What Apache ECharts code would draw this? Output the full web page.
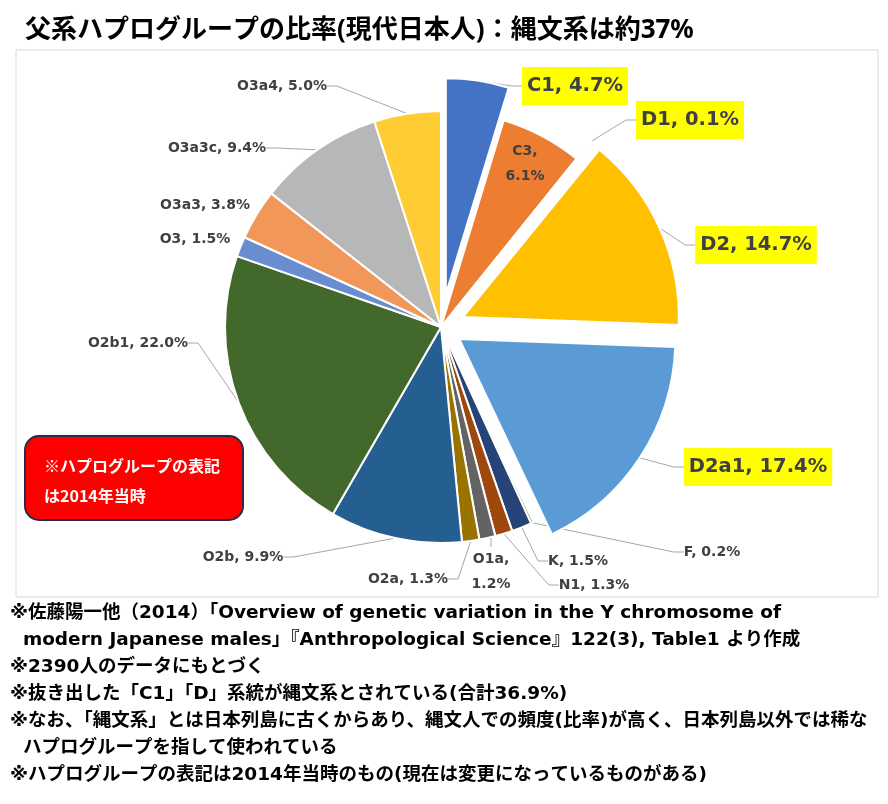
<!DOCTYPE html>
<html>
<head>
<meta charset="utf-8">
<script src="https://cdn.jsdelivr.net/npm/echarts@6/dist/echarts.min.js"></script>
<style>
  html, body { margin: 0; padding: 0; background: #fff; }
  #chart { width: 888px; height: 804px; }
</style>
</head>
<body>
<div id="chart"></div>
<script>
// haplogroup shares (%), clockwise from 12 o'clock
const groups = ['C1', 'C3', 'D1', 'D2', 'D2a1', 'F', 'K', 'N1', 'O1a', 'O2a', 'O2b', 'O2b1', 'O3', 'O3a3', 'O3a3c', 'O3a4']
const shares = [4.7, 6.1, 0.1, 14.7, 17.4, 0.2, 1.5, 1.3, 1.2, 1.3, 9.9, 22.0, 1.5, 3.8, 9.4, 5.0]
// Jomon lineages (pulled out of the pie, yellow labels)
const jomon = ['C1', 'D1', 'D2', 'D2a1']
const twoLine = ['C3', 'O1a']

const titleText = '父系ハプログループの比率(現代日本人)：縄文系は約37%'
const noteLines = [
  '※佐藤陽一他（2014）「Overview of genetic variation in the Y chromosome of',
  '  modern Japanese males」『Anthropological Science』122(3), Table1 より作成',
  '※2390人のデータにもとづく',
  '※抜き出した「C1」「D」系統が縄文系とされている(合計36.9%)',
  '※なお、「縄文系」とは日本列島に古くからあり、縄文人での頻度(比率)が高く、日本列島以外では稀な',
  '  ハプログループを指して使われている',
  '※ハプログループの表記は2014年当時のもの(現在は変更になっているものがある)'
]
const boxLines = ['※ハプログループの表記', 'は2014年当時']

const colors = ['#4472C4', '#ED7D31', '#A5A5A5', '#FFC000', '#5B9BD5', '#70AD47',
  '#264478', '#9E480E', '#636363', '#997300', '#255E91', '#43682B',
  '#698ED0', '#F1975A', '#B7B7B7', '#FFCD33']

// pie geometry and how far each pulled-out slice sits from the centre
const cx = 441, cy = 327, R = 216
const pullOut = { C1: 33, D1: 23, D2: 24, D2a1: 22 }

// where each label sits (centre of the text)
const labelAt = {
  C1: [575, 86], C3: [525, 164], D1: [690, 120], D2: [756, 245], D2a1: [758, 467],
  F: [712, 552], K: [578, 561], N1: [594, 585], O1a: [491, 572], O2a: [408, 579],
  O2b: [243, 557], O2b1: [138, 343], O3: [195, 239], O3a3: [205, 205],
  O3a3c: [217, 148], O3a4: [282, 86]
}
const noLine = ['C3', 'O3', 'O3a3']

const font = 'DejaVu Sans'
const noteFont = "'DejaVu Sans', 'Noto Sans CJK JP'"
const cjk = "'Noto Sans', 'Noto Sans CJK JP'"

function fmt(p) {
  const sep = twoLine.includes(p.name) ? ',\n' : ', '
  return p.name + sep + p.value.toFixed(1) + '%'
}

// centre of the pie a pulled-out slice is drawn around
function centreFor(g) {
  const d = pullOut[g] || 0
  if (!d) return [cx, cy]
  const total = shares.reduce((a, b) => a + b, 0)
  const i = groups.indexOf(g)
  const before = shares.slice(0, i).reduce((a, b) => a + b, 0)
  const mid = (before + shares[i] / 2) / total * Math.PI * 2
  return [cx + d * Math.sin(mid), cy - d * Math.cos(mid)]
}

// visible: which slices this series draws
function makeData(visible) {
  return groups.map((g, i) => {
    const show = visible(g)
    const big = jomon.includes(g)
    return {
      name: g,
      value: shares[i],
      itemStyle: show ? { color: colors[i] } : { color: colors[i], opacity: 0, borderWidth: 0 },
      label: {
        show: show,
        fontSize: big ? 19.5 : 14,
        lineHeight: big ? 24 : 25,
        backgroundColor: big ? '#FFFF00' : 'transparent',
        padding: big ? [7, 5] : 0
      },
      labelLine: { show: show && !noLine.includes(g) }
    }
  })
}

function pieSeries(visible, centre) {
  return {
    type: 'pie',
    center: centre,
    radius: R,
    startAngle: 90,
    clockwise: true,
    avoidLabelOverlap: false,
    animation: false,
    itemStyle: { borderColor: '#fff', borderWidth: 2 },
    emphasis: { disabled: true },
    label: {
      formatter: fmt,
      fontFamily: font,
      fontWeight: 'bold',
      color: '#404040',
      align: 'center'
    },
    labelLine: { lineStyle: { color: '#A6A6A6', width: 1 }, length: 10, length2: 10 },
    labelLayout: function (p) {
      const pos = labelAt[groups[p.dataIndex]]
      return { x: pos[0], y: pos[1], align: 'center', verticalAlign: 'middle' }
    },
    data: makeData(visible)
  }
}

const chart = echarts.init(document.getElementById('chart'))

const graphics = [
  {
    type: 'rect', z: -10,
    shape: { x: 16, y: 50, width: 862, height: 547 },
    style: { fill: '#fff', stroke: '#D9D9D9', lineWidth: 1 }
  },
  {
    type: 'rect', z: 10,
    shape: { x: 25, y: 436, width: 218, height: 84, r: 14 },
    style: { fill: '#FF0000', stroke: '#2B2A4C', lineWidth: 2 }
  }
]
boxLines.forEach((t, i) => {
  graphics.push({
    type: 'text', z: 11, x: 44, y: 466 + i * 30,
    style: { text: t, fill: '#fff', font: "bold 16px 'Noto Sans CJK JP'", verticalAlign: 'middle' }
  })
})
noteLines.forEach((t, i) => {
  graphics.push({
    type: 'text', x: 10, y: 613 + i * 27,
    style: { text: t, fill: '#000', font: 'bold 18.5px ' + noteFont, verticalAlign: 'middle' }
  })
})

const series = [pieSeries(g => !pullOut[g], [cx, cy])]
Object.keys(pullOut).forEach(g => {
  series.push(pieSeries(x => x === g, centreFor(g)))
})

chart.setOption({
  backgroundColor: '#fff',
  title: {
    text: titleText,
    left: 20,
    top: 13,
    textStyle: { fontFamily: cjk, fontSize: 26, fontWeight: 'bold', color: '#000' }
  },
  graphic: graphics,
  series: series
})
</script>
</body>
</html>
